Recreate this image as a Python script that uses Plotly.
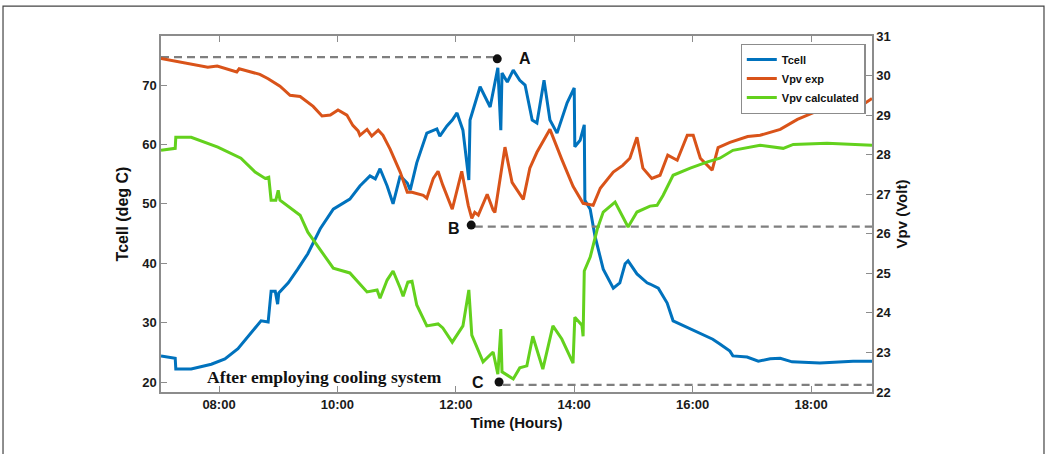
import plotly.graph_objects as go

# Time axis in decimal hours
tick_hours = [8, 10, 12, 14, 16, 18]
tick_labels = ["08:00", "10:00", "12:00", "14:00", "16:00", "18:00"]

# Cell temperature (deg C)
tcell_hours = [7.02, 7.26, 7.27, 7.53, 7.87, 8.10, 8.32, 8.54, 8.71, 8.83, 8.88, 8.95, 8.99, 9.01,
               9.17, 9.33, 9.50, 9.71, 9.93, 10.21, 10.38, 10.55, 10.64, 10.72, 10.84, 10.94, 11.06,
               11.18, 11.23, 11.34, 11.51, 11.68, 11.73, 11.85, 11.94, 12.02, 12.12, 12.22, 12.24,
               12.41, 12.58, 12.71, 12.76, 12.78, 12.87, 12.97, 13.08, 13.17, 13.29, 13.37, 13.49,
               13.59, 13.71, 13.88, 14.00, 14.01, 14.10, 14.17, 14.18, 14.27, 14.35, 14.49, 14.66,
               14.77, 14.86, 14.91, 15.06, 15.23, 15.28, 15.42, 15.57, 15.67, 15.96, 16.34, 16.46,
               16.63, 16.68, 16.92, 17.11, 17.31, 17.48, 17.68, 18.15, 18.71, 19.03]
tcell = [24.4, 24.0, 22.2, 22.2, 23.0, 23.9, 25.6, 28.2, 30.3, 30.1, 35.3, 35.3, 33.1, 35.0,
         36.7, 39.0, 41.6, 45.8, 49.1, 50.8, 53.0, 54.7, 54.2, 55.9, 53.0, 50.0, 54.7,
         53.5, 52.3, 56.9, 61.9, 62.6, 61.4, 63.1, 64.1, 65.3, 62.4, 54.0, 64.1,
         69.7, 66.3, 72.9, 62.4, 72.0, 70.5, 72.5, 70.8, 70.0, 64.1, 63.6, 70.8,
         64.1, 61.9, 67.0, 69.5, 59.6, 60.7, 63.3, 50.6, 49.1, 44.6, 39.0, 35.8,
         36.7, 39.9, 40.4, 38.2, 36.7, 36.5, 35.8, 33.3, 30.3, 28.9, 27.2, 26.4,
         25.2, 24.4, 24.2, 23.5, 23.9, 24.0, 23.4, 23.2, 23.5, 23.5]

# Measured PV voltage (Volt)
vexp_hours = [7.02, 7.81, 7.97, 8.30, 8.34, 8.69, 8.83, 9.03, 9.20, 9.37, 9.59, 9.74, 9.88, 10.01,
              10.16, 10.26, 10.35, 10.38, 10.50, 10.58, 10.69, 10.77, 10.89, 11.01, 11.06, 11.18,
              11.26, 11.45, 11.51, 11.62, 11.70, 11.78, 11.94, 12.10, 12.21, 12.27, 12.32, 12.38,
              12.53, 12.63, 12.66, 12.83, 12.95, 13.14, 13.25, 13.37, 13.59, 13.79, 13.98, 14.15,
              14.32, 14.44, 14.66, 14.82, 14.94, 15.06, 15.16, 15.31, 15.45, 15.58, 15.74, 15.91,
              16.01, 16.13, 16.33, 16.43, 16.63, 16.93, 17.14, 17.48, 17.77, 18.10, 18.54, 18.78,
              18.95, 19.03]
vpv_exp = [30.43, 30.21, 30.24, 30.09, 30.17, 30.03, 29.92, 29.73, 29.50, 29.47, 29.22, 28.98, 29.00, 29.13,
           29.00, 28.74, 28.60, 28.49, 28.64, 28.47, 28.62, 28.49, 28.14, 27.71, 27.56, 27.05,
           27.05, 26.97, 26.90, 27.40, 27.58, 27.23, 26.62, 27.58, 26.72, 26.39, 26.54, 26.47,
           27.00, 26.60, 26.54, 28.19, 27.30, 26.87, 27.66, 28.06, 28.64, 27.88, 27.20, 26.77,
           26.72, 27.15, 27.56, 27.73, 27.91, 28.44, 27.66, 27.40, 27.48, 27.99, 27.86, 28.49,
           28.49, 27.91, 27.61, 28.18, 28.31, 28.46, 28.49, 28.64, 28.89, 29.10, 29.22, 29.17,
           29.35, 29.42]

# Calculated PV voltage (Volt)
vcalc_hours = [7.02, 7.26, 7.27, 7.53, 7.98, 8.37, 8.61, 8.78, 8.84, 8.88, 8.96, 9.00, 9.03, 9.22,
               9.37, 9.50, 9.66, 9.93, 10.21, 10.50, 10.67, 10.72, 10.84, 10.94, 11.06, 11.11,
               11.19, 11.26, 11.34, 11.51, 11.70, 11.78, 11.94, 12.12, 12.22, 12.27, 12.46, 12.63,
               12.71, 12.76, 12.78, 12.92, 12.97, 13.08, 13.20, 13.30, 13.47, 13.64, 13.79, 13.98,
               14.01, 14.13, 14.15, 14.17, 14.27, 14.39, 14.49, 14.69, 14.82, 14.91, 15.06, 15.28,
               15.40, 15.50, 15.67, 15.96, 16.24, 16.46, 16.68, 17.14, 17.53, 17.70, 18.27, 19.03]
vpv_calc = [28.11, 28.16, 28.44, 28.44, 28.19, 27.91, 27.56, 27.40, 27.43, 26.85, 26.85, 27.10, 26.85, 26.65,
            26.47, 26.04, 25.71, 25.13, 25.01, 24.53, 24.58, 24.37, 24.83, 25.06, 24.63, 24.42,
            24.78, 24.80, 24.20, 23.67, 23.72, 23.62, 23.26, 23.67, 24.58, 23.44, 22.76, 23.01,
            22.45, 23.59, 22.51, 22.38, 22.33, 22.61, 22.66, 23.41, 22.58, 23.67, 23.34, 22.73,
            23.89, 23.69, 23.41, 25.06, 25.41, 26.12, 26.55, 26.80, 26.44, 26.17, 26.55, 26.70,
            26.72, 26.97, 27.48, 27.66, 27.81, 27.91, 28.11, 28.24, 28.16, 28.26, 28.29, 28.24]

# Marked points A (Tcell max), B (Vpv exp min), C (Vpv calc min)
point_a = (12.70, 74.4)
point_b = (12.26, 26.22)
point_c = (12.73, 20.0)
guide_a = ([7.02, 12.68], [74.7, 74.7])
guide_b = ([12.32, 19.03], [26.18, 26.18])
guide_c = ([12.79, 19.03], [22.18, 22.18])

BLUE = "#0072BD"
ORANGE = "#D95319"
GREEN = "#63D11D"
GUIDE = "#7F7F7F"
AXIS = "#8C8C8C"
FONT = "Arial, Liberation Sans, sans-serif"

fig = go.Figure()

guide_style = dict(color=GUIDE, width=2.2, dash="8px,5px")
fig.add_trace(go.Scatter(x=guide_a[0], y=guide_a[1], mode="lines", line=guide_style,
                         showlegend=False, hoverinfo="skip"))
fig.add_trace(go.Scatter(x=guide_b[0], y=guide_b[1], mode="lines", line=guide_style,
                         showlegend=False, hoverinfo="skip", yaxis="y2"))
fig.add_trace(go.Scatter(x=guide_c[0], y=guide_c[1], mode="lines", line=guide_style,
                         showlegend=False, hoverinfo="skip", yaxis="y2"))

fig.add_trace(go.Scatter(x=tcell_hours, y=tcell, mode="lines", name="Tcell",
                         line=dict(color=BLUE, width=3)))
fig.add_trace(go.Scatter(x=vexp_hours, y=vpv_exp, mode="lines", name="Vpv exp",
                         line=dict(color=ORANGE, width=3), yaxis="y2"))
fig.add_trace(go.Scatter(x=vcalc_hours, y=vpv_calc, mode="lines", name="Vpv calculated",
                         line=dict(color=GREEN, width=3), yaxis="y2"))

fig.add_trace(go.Scatter(x=[point_a[0], point_c[0]], y=[point_a[1], point_c[1]], mode="markers",
                         marker=dict(color="#111111", size=9), showlegend=False, hoverinfo="skip"))
fig.add_trace(go.Scatter(x=[point_b[0]], y=[point_b[1]], mode="markers",
                         marker=dict(color="#111111", size=9), showlegend=False, hoverinfo="skip",
                         yaxis="y2"))

label_font = dict(family=FONT, size=16, color="#111111", weight="bold")
fig.add_annotation(x=point_a[0], y=point_a[1], text="A", showarrow=False, xshift=28,
                   font=label_font)
fig.add_annotation(x=point_b[0], y=point_b[1], yref="y2", text="B", showarrow=False,
                   xshift=-17, yshift=-3, font=label_font)
fig.add_annotation(x=point_c[0], y=point_c[1], text="C", showarrow=False, xshift=-21,
                   font=label_font)
fig.add_annotation(x=9.79, y=20.8, text="After employing cooling system", showarrow=False,
                   font=dict(family="Liberation Serif, Times New Roman, serif", size=17.5,
                             color="#111111", weight="bold"))

# Outer frame of the figure
fig.add_shape(type="rect", xref="paper", yref="paper", x0=-0.2222, x1=1.2419, y0=-0.19, y1=1.084,
              line=dict(color="#444444", width=1.2), fillcolor="rgba(0,0,0,0)")

tick_font = dict(family=FONT, size=13, color="#1a1a1a", weight="bold")
title_font = dict(family=FONT, size=15, color="#111111", weight="bold")

fig.update_layout(
    width=1047, height=454, autosize=False,
    margin=dict(l=161, r=175, t=36, b=62, pad=0),
    paper_bgcolor="white", plot_bgcolor="white",
    xaxis=dict(range=[7.02, 19.03], tickvals=tick_hours, ticktext=tick_labels,
               ticks="inside", ticklen=6, tickcolor=AXIS, tickwidth=1.2,
               showline=True, linecolor=AXIS, linewidth=1.5, mirror="ticks",
               showgrid=False, zeroline=False, tickfont=tick_font,
               title=dict(text="Time (Hours)", font=title_font, standoff=6)),
    yaxis=dict(range=[18.32, 78.25], tickvals=[20, 30, 40, 50, 60, 70],
               ticks="inside", ticklen=6, tickcolor=AXIS, tickwidth=1.2,
               showline=True, linecolor=AXIS, linewidth=1.5, mirror=False,
               showgrid=False, zeroline=False, tickfont=tick_font,
               title=dict(text="Tcell (deg C)", font=dict(family=FONT, size=16, color="#111111",
                                                          weight="bold"), standoff=10)),
    yaxis2=dict(range=[22.0, 31.0], tickvals=list(range(22, 32)), overlaying="y", side="right",
                ticks="inside", ticklen=6, tickcolor=AXIS, tickwidth=1.2,
                showline=True, linecolor=AXIS, linewidth=1.5,
                showgrid=False, zeroline=False, tickfont=tick_font,
                title=dict(text="Vpv (Volt)", font=title_font, standoff=6)),
    legend=dict(x=0.991, y=0.978, xanchor="right", yanchor="top",
                bgcolor="white", bordercolor="#8C8C8C", borderwidth=1.2,
                font=dict(family=FONT, size=11, color="#111111", weight="bold"),
                tracegroupgap=0, itemwidth=30),
    showlegend=True,
)

fig.write_html("out.html")
